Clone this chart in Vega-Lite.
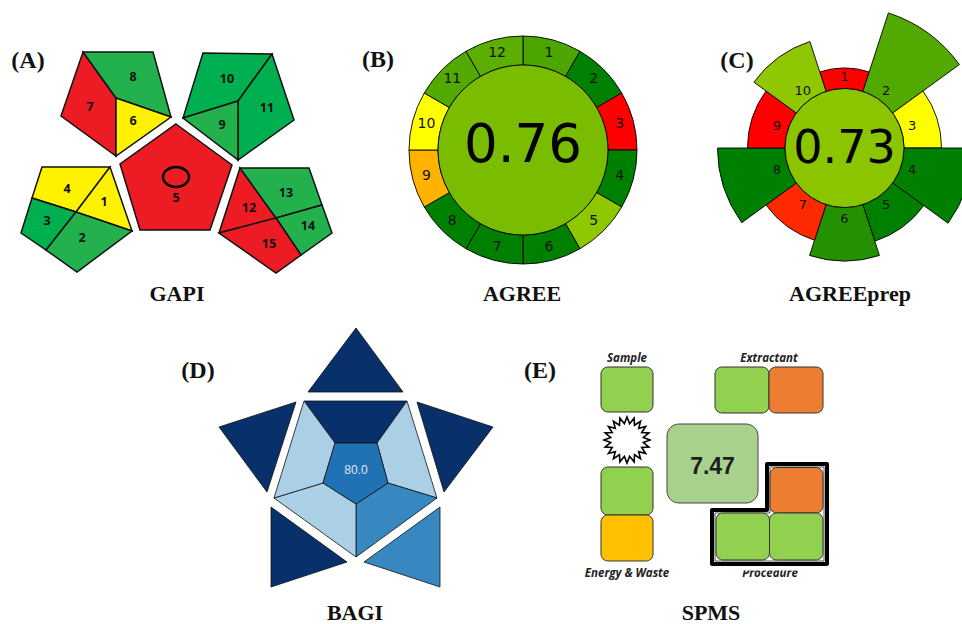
{
  "$schema": "https://vega.github.io/schema/vega-lite/v6.json",
  "width": 962,
  "height": 624,
  "padding": 0,
  "autosize": {"type": "none"},
  "background": "white",
  "config": {"view": {"stroke": null}},
  "datasets": {
    "gapi_cells": [
      {"seg": "7", "i": 0, "x": 83, "y": 52, "level": "high"},
      {"seg": "7", "i": 1, "x": 116, "y": 98, "level": "high"},
      {"seg": "7", "i": 2, "x": 116, "y": 156, "level": "high"},
      {"seg": "7", "i": 3, "x": 61, "y": 116, "level": "high"},
      {"seg": "8", "i": 0, "x": 83, "y": 52, "level": "low"},
      {"seg": "8", "i": 1, "x": 153, "y": 52, "level": "low"},
      {"seg": "8", "i": 2, "x": 171, "y": 117, "level": "low"},
      {"seg": "8", "i": 3, "x": 116, "y": 98, "level": "low"},
      {"seg": "6", "i": 0, "x": 116, "y": 98, "level": "medium"},
      {"seg": "6", "i": 1, "x": 171, "y": 117, "level": "medium"},
      {"seg": "6", "i": 2, "x": 116, "y": 156, "level": "medium"},
      {"seg": "10", "i": 0, "x": 203, "y": 53, "level": "lowest"},
      {"seg": "10", "i": 1, "x": 272, "y": 54, "level": "lowest"},
      {"seg": "10", "i": 2, "x": 238, "y": 101, "level": "lowest"},
      {"seg": "10", "i": 3, "x": 183, "y": 118, "level": "lowest"},
      {"seg": "11", "i": 0, "x": 272, "y": 54, "level": "lowest"},
      {"seg": "11", "i": 1, "x": 294, "y": 120, "level": "lowest"},
      {"seg": "11", "i": 2, "x": 238, "y": 160, "level": "lowest"},
      {"seg": "11", "i": 3, "x": 238, "y": 101, "level": "lowest"},
      {"seg": "9", "i": 0, "x": 183, "y": 118, "level": "low"},
      {"seg": "9", "i": 1, "x": 238, "y": 101, "level": "low"},
      {"seg": "9", "i": 2, "x": 238, "y": 160, "level": "low"},
      {"seg": "5", "i": 0, "x": 176, "y": 124, "level": "high"},
      {"seg": "5", "i": 1, "x": 232, "y": 165, "level": "high"},
      {"seg": "5", "i": 2, "x": 210, "y": 230, "level": "high"},
      {"seg": "5", "i": 3, "x": 140, "y": 230, "level": "high"},
      {"seg": "5", "i": 4, "x": 120, "y": 164, "level": "high"},
      {"seg": "4", "i": 0, "x": 42, "y": 167, "level": "medium"},
      {"seg": "4", "i": 1, "x": 110, "y": 167, "level": "medium"},
      {"seg": "4", "i": 2, "x": 76, "y": 212, "level": "medium"},
      {"seg": "4", "i": 3, "x": 32, "y": 198, "level": "medium"},
      {"seg": "1", "i": 0, "x": 110, "y": 167, "level": "medium"},
      {"seg": "1", "i": 1, "x": 132, "y": 231, "level": "medium"},
      {"seg": "1", "i": 2, "x": 76, "y": 212, "level": "medium"},
      {"seg": "3", "i": 0, "x": 32, "y": 198, "level": "lowest"},
      {"seg": "3", "i": 1, "x": 76, "y": 212, "level": "lowest"},
      {"seg": "3", "i": 2, "x": 46, "y": 250, "level": "lowest"},
      {"seg": "3", "i": 3, "x": 21, "y": 233, "level": "lowest"},
      {"seg": "2", "i": 0, "x": 76, "y": 212, "level": "low"},
      {"seg": "2", "i": 1, "x": 132, "y": 231, "level": "low"},
      {"seg": "2", "i": 2, "x": 77, "y": 272, "level": "low"},
      {"seg": "2", "i": 3, "x": 46, "y": 250, "level": "low"},
      {"seg": "12", "i": 0, "x": 240, "y": 168, "level": "high"},
      {"seg": "12", "i": 1, "x": 276, "y": 218, "level": "high"},
      {"seg": "12", "i": 2, "x": 219, "y": 233, "level": "high"},
      {"seg": "13", "i": 0, "x": 240, "y": 168, "level": "low"},
      {"seg": "13", "i": 1, "x": 309, "y": 168, "level": "low"},
      {"seg": "13", "i": 2, "x": 322, "y": 205, "level": "low"},
      {"seg": "13", "i": 3, "x": 276, "y": 218, "level": "low"},
      {"seg": "14", "i": 0, "x": 276, "y": 218, "level": "low"},
      {"seg": "14", "i": 1, "x": 322, "y": 205, "level": "low"},
      {"seg": "14", "i": 2, "x": 332, "y": 233, "level": "low"},
      {"seg": "14", "i": 3, "x": 301, "y": 255, "level": "low"},
      {"seg": "15", "i": 0, "x": 219, "y": 233, "level": "high"},
      {"seg": "15", "i": 1, "x": 276, "y": 218, "level": "high"},
      {"seg": "15", "i": 2, "x": 301, "y": 255, "level": "high"},
      {"seg": "15", "i": 3, "x": 276, "y": 273, "level": "high"}
    ],
    "gapi_labels": [
      {"x": 133, "y": 77, "label": "8"},
      {"x": 90, "y": 107, "label": "7"},
      {"x": 133, "y": 121, "label": "6"},
      {"x": 227, "y": 79, "label": "10"},
      {"x": 267, "y": 108, "label": "11"},
      {"x": 222, "y": 125, "label": "9"},
      {"x": 67, "y": 189, "label": "4"},
      {"x": 104, "y": 202, "label": "1"},
      {"x": 47, "y": 221, "label": "3"},
      {"x": 82, "y": 238, "label": "2"},
      {"x": 286, "y": 193, "label": "13"},
      {"x": 249, "y": 208, "label": "12"},
      {"x": 308, "y": 226, "label": "14"},
      {"x": 269, "y": 244, "label": "15"},
      {"x": 176, "y": 198, "label": "5"}
    ],
    "wheel_sectors": [
      {"x": 523, "y": 150, "t0": 0, "t1": 30, "r0": 85, "r1": 114, "score": 0.85},
      {"x": 523, "y": 150, "t0": 30, "t1": 60, "r0": 85, "r1": 114, "score": 1},
      {"x": 523, "y": 150, "t0": 60, "t1": 90, "r0": 85, "r1": 114, "score": 0},
      {"x": 523, "y": 150, "t0": 90, "t1": 120, "r0": 85, "r1": 114, "score": 1},
      {"x": 523, "y": 150, "t0": 120, "t1": 150, "r0": 85, "r1": 114, "score": 0.72},
      {"x": 523, "y": 150, "t0": 150, "t1": 180, "r0": 85, "r1": 114, "score": 1},
      {"x": 523, "y": 150, "t0": 180, "t1": 210, "r0": 85, "r1": 114, "score": 1},
      {"x": 523, "y": 150, "t0": 210, "t1": 240, "r0": 85, "r1": 114, "score": 1},
      {"x": 523, "y": 150, "t0": 240, "t1": 270, "r0": 85, "r1": 114, "score": 0.35},
      {"x": 523, "y": 150, "t0": 270, "t1": 300, "r0": 85, "r1": 114, "score": 0.5},
      {"x": 523, "y": 150, "t0": 300, "t1": 330, "r0": 85, "r1": 114, "score": 0.84},
      {"x": 523, "y": 150, "t0": 330, "t1": 360, "r0": 85, "r1": 114, "score": 0.82},
      {"x": 844.5, "y": 148, "t0": -18, "t1": 18, "r0": 59.5, "r1": 80, "score": 0},
      {"x": 844.5, "y": 148, "t0": 18, "t1": 54, "r0": 59.5, "r1": 142, "score": 0.84},
      {"x": 844.5, "y": 148, "t0": 54, "t1": 90, "r0": 59.5, "r1": 97, "score": 0.5},
      {"x": 844.5, "y": 148, "t0": 90, "t1": 126, "r0": 59.5, "r1": 128, "score": 1},
      {"x": 844.5, "y": 148, "t0": 126, "t1": 162, "r0": 59.5, "r1": 98, "score": 1},
      {"x": 844.5, "y": 148, "t0": 162, "t1": 198, "r0": 59.5, "r1": 113, "score": 0.93},
      {"x": 844.5, "y": 148, "t0": 198, "t1": 234, "r0": 59.5, "r1": 97, "score": 0.08},
      {"x": 844.5, "y": 148, "t0": 234, "t1": 270, "r0": 59.5, "r1": 127, "score": 1},
      {"x": 844.5, "y": 148, "t0": 270, "t1": 306, "r0": 59.5, "r1": 97, "score": 0},
      {"x": 844.5, "y": 148, "t0": 306, "t1": 342, "r0": 59.5, "r1": 112, "score": 0.72}
    ],
    "wheel_cores": [
      {"x": 523, "y": 150, "t0": 0, "t1": 360, "r0": 0, "r1": 85, "score": 0.76},
      {"x": 844.5, "y": 148, "t0": 0, "t1": 360, "r0": 0, "r1": 59.5, "score": 0.73}
    ],
    "agree_labels": [
      {"x": 523, "y": 150, "t": 15, "r": 100, "label": "1"},
      {"x": 523, "y": 150, "t": 45, "r": 100, "label": "2"},
      {"x": 523, "y": 150, "t": 75, "r": 100, "label": "3"},
      {"x": 523, "y": 150, "t": 105, "r": 100, "label": "4"},
      {"x": 523, "y": 150, "t": 135, "r": 100, "label": "5"},
      {"x": 523, "y": 150, "t": 165, "r": 100, "label": "6"},
      {"x": 523, "y": 150, "t": 195, "r": 100, "label": "7"},
      {"x": 523, "y": 150, "t": 225, "r": 100, "label": "8"},
      {"x": 523, "y": 150, "t": 255, "r": 100, "label": "9"},
      {"x": 523, "y": 150, "t": 285, "r": 100, "label": "10"},
      {"x": 523, "y": 150, "t": 315, "r": 100, "label": "11"},
      {"x": 523, "y": 150, "t": 345, "r": 100, "label": "12"}
    ],
    "prep_labels": [
      {"x": 844.5, "y": 148, "t": 0, "r": 71, "label": "1"},
      {"x": 844.5, "y": 148, "t": 36, "r": 71, "label": "2"},
      {"x": 844.5, "y": 148, "t": 72, "r": 71, "label": "3"},
      {"x": 844.5, "y": 148, "t": 108, "r": 71, "label": "4"},
      {"x": 844.5, "y": 148, "t": 144, "r": 71, "label": "5"},
      {"x": 844.5, "y": 148, "t": 180, "r": 71, "label": "6"},
      {"x": 844.5, "y": 148, "t": 216, "r": 71, "label": "7"},
      {"x": 844.5, "y": 148, "t": 252, "r": 71, "label": "8"},
      {"x": 844.5, "y": 148, "t": 288, "r": 71, "label": "9"},
      {"x": 844.5, "y": 148, "t": 324, "r": 71, "label": "10"}
    ],
    "bagi_cells": [
      {"part": "t1", "i": 0, "x": 356, "y": 328, "tone": "navy"},
      {"part": "t1", "i": 1, "x": 403, "y": 392, "tone": "navy"},
      {"part": "t1", "i": 2, "x": 308, "y": 392, "tone": "navy"},
      {"part": "t2", "i": 0, "x": 219, "y": 427, "tone": "navy"},
      {"part": "t2", "i": 1, "x": 296, "y": 402, "tone": "navy"},
      {"part": "t2", "i": 2, "x": 267, "y": 492, "tone": "navy"},
      {"part": "t3", "i": 0, "x": 417, "y": 402, "tone": "navy"},
      {"part": "t3", "i": 1, "x": 493, "y": 427, "tone": "navy"},
      {"part": "t3", "i": 2, "x": 444, "y": 492, "tone": "navy"},
      {"part": "t4", "i": 0, "x": 271, "y": 507, "tone": "navy"},
      {"part": "t4", "i": 1, "x": 347, "y": 562, "tone": "navy"},
      {"part": "t4", "i": 2, "x": 271, "y": 587, "tone": "navy"},
      {"part": "t5", "i": 0, "x": 440, "y": 507, "tone": "mid"},
      {"part": "t5", "i": 1, "x": 440, "y": 587, "tone": "mid"},
      {"part": "t5", "i": 2, "x": 364, "y": 562, "tone": "mid"},
      {"part": "r1", "i": 0, "x": 304, "y": 401, "tone": "navy"},
      {"part": "r1", "i": 1, "x": 407, "y": 401, "tone": "navy"},
      {"part": "r1", "i": 2, "x": 377, "y": 443, "tone": "navy"},
      {"part": "r1", "i": 3, "x": 335, "y": 443, "tone": "navy"},
      {"part": "r2", "i": 0, "x": 407, "y": 401, "tone": "pale"},
      {"part": "r2", "i": 1, "x": 437, "y": 498, "tone": "pale"},
      {"part": "r2", "i": 2, "x": 388, "y": 483, "tone": "pale"},
      {"part": "r2", "i": 3, "x": 377, "y": 443, "tone": "pale"},
      {"part": "r3", "i": 0, "x": 437, "y": 498, "tone": "mid"},
      {"part": "r3", "i": 1, "x": 356, "y": 557, "tone": "mid"},
      {"part": "r3", "i": 2, "x": 356, "y": 504, "tone": "mid"},
      {"part": "r3", "i": 3, "x": 388, "y": 483, "tone": "mid"},
      {"part": "r4", "i": 0, "x": 356, "y": 557, "tone": "pale"},
      {"part": "r4", "i": 1, "x": 274, "y": 498, "tone": "pale"},
      {"part": "r4", "i": 2, "x": 323, "y": 483, "tone": "pale"},
      {"part": "r4", "i": 3, "x": 356, "y": 504, "tone": "pale"},
      {"part": "r5", "i": 0, "x": 274, "y": 498, "tone": "pale"},
      {"part": "r5", "i": 1, "x": 304, "y": 401, "tone": "pale"},
      {"part": "r5", "i": 2, "x": 335, "y": 443, "tone": "pale"},
      {"part": "r5", "i": 3, "x": 323, "y": 483, "tone": "pale"},
      {"part": "c", "i": 0, "x": 335, "y": 443, "tone": "core"},
      {"part": "c", "i": 1, "x": 377, "y": 443, "tone": "core"},
      {"part": "c", "i": 2, "x": 388, "y": 483, "tone": "core"},
      {"part": "c", "i": 3, "x": 356, "y": 504, "tone": "core"},
      {"part": "c", "i": 4, "x": 323, "y": 483, "tone": "core"}
    ],
    "procedure_frame": [
      {"ring": "outer", "i": 0, "x": 712, "y": 510},
      {"ring": "outer", "i": 1, "x": 767, "y": 510},
      {"ring": "outer", "i": 2, "x": 767, "y": 464},
      {"ring": "outer", "i": 3, "x": 827, "y": 464},
      {"ring": "outer", "i": 4, "x": 827, "y": 564},
      {"ring": "outer", "i": 5, "x": 712, "y": 564},
      {"ring": "inner", "i": 0, "x": 715, "y": 513},
      {"ring": "inner", "i": 1, "x": 770, "y": 513},
      {"ring": "inner", "i": 2, "x": 770, "y": 467},
      {"ring": "inner", "i": 3, "x": 824, "y": 467},
      {"ring": "inner", "i": 4, "x": 824, "y": 561},
      {"ring": "inner", "i": 5, "x": 715, "y": 561}
    ],
    "spms_boxes": [
      {"group": "Sample", "x": 601, "x2": 653, "y": 367, "y2": 412, "grade": "good"},
      {"group": "Extractant", "x": 715, "x2": 769, "y": 367, "y2": 413, "grade": "good"},
      {"group": "Extractant", "x": 769, "x2": 823, "y": 367, "y2": 413, "grade": "poor"},
      {"group": "Energy & Waste", "x": 601, "x2": 653, "y": 467, "y2": 515, "grade": "good"},
      {"group": "Energy & Waste", "x": 601, "x2": 653, "y": 515, "y2": 561, "grade": "fair"},
      {"group": "Procedure", "x": 770, "x2": 823, "y": 467.5, "y2": 513, "grade": "poor"},
      {"group": "Procedure", "x": 716, "x2": 769.5, "y": 513, "y2": 560, "grade": "good"},
      {"group": "Procedure", "x": 769.5, "x2": 823, "y": 513, "y2": 560, "grade": "good"}
    ],
    "spms_labels": [
      {"x": 627, "y": 362, "label": "Sample"},
      {"x": 769, "y": 362, "label": "Extractant"},
      {"x": 627, "y": 577, "label": "Energy & Waste"},
      {"x": 770, "y": 577, "label": "Procedure"}
    ],
    "panel_letters": [
      {"x": 28, "y": 68, "label": "(A)"},
      {"x": 378, "y": 67, "label": "(B)"},
      {"x": 737, "y": 68, "label": "(C)"},
      {"x": 198, "y": 378, "label": "(D)"},
      {"x": 540, "y": 378, "label": "(E)"}
    ],
    "panel_titles": [
      {"x": 177, "y": 301, "label": "GAPI"},
      {"x": 522, "y": 301, "label": "AGREE"},
      {"x": 850, "y": 301, "label": "AGREEprep"},
      {"x": 355, "y": 620, "label": "BAGI"},
      {"x": 711, "y": 620, "label": "SPMS"}
    ]
  },
  "encoding": {
    "x": {"field": "x", "type": "quantitative", "scale": {"domain": [0, 962], "nice": false, "zero": false}, "axis": null},
    "y": {"field": "y", "type": "quantitative", "scale": {"domain": [0, 624], "nice": false, "zero": false, "reverse": true}, "axis": null}
  },
  "layer": [
    {
      "data": {"name": "gapi_cells"},
      "mark": {"type": "line", "interpolate": "linear-closed", "stroke": "#111111", "strokeWidth": 1.5, "strokeJoin": "miter"},
      "encoding": {
        "detail": {"field": "seg", "type": "nominal"},
        "order": {"field": "i", "type": "quantitative"},
        "fill": {"field": "level", "type": "nominal", "scale": {"domain": ["high", "medium", "low", "lowest"], "range": ["#ed1c24", "#fff200", "#22b14c", "#00b050"]}, "legend": null}
      }
    },
    {
      "data": {"values": [{"x": 176, "y": 177}]},
      "mark": {"type": "point", "shape": "M-1,0A1,0.77 0 1,1 1,0A1,0.77 0 1,1 -1,0Z", "size": 676, "filled": false, "stroke": "#000000", "strokeWidth": 2.5, "opacity": 1}
    },
    {
      "data": {"name": "gapi_labels"},
      "mark": {"type": "text", "font": "Open Sans", "fontWeight": "bold", "fontSize": 12.5, "fill": "#111111", "align": "center", "baseline": "middle"},
      "encoding": {"text": {"field": "label"}}
    },
    {
      "data": {"name": "wheel_sectors"},
      "mark": {"type": "arc", "stroke": "#000000", "strokeWidth": 0.9},
      "encoding": {
        "theta": {"field": "t0", "type": "quantitative", "stack": null, "scale": {"domain": [0, 360], "range": [0, 6.283185307179586]}},
        "theta2": {"field": "t1"},
        "radius": {"field": "r1", "type": "quantitative", "scale": {"type": "linear", "zero": true, "domain": [0, 200], "range": [0, 200]}},
        "radius2": {"field": "r0"},
        "fill": {"field": "score", "type": "quantitative", "scale": {"domain": [0, 0.5, 1], "range": ["#ff0000", "#ffff00", "#008000"], "interpolate": "rgb"}, "legend": null}
      }
    },
    {
      "data": {"name": "wheel_cores"},
      "mark": {"type": "arc", "stroke": "#000000", "strokeWidth": 0.9},
      "encoding": {
        "theta": {"field": "t0", "type": "quantitative", "stack": null, "scale": {"domain": [0, 360], "range": [0, 6.283185307179586]}},
        "theta2": {"field": "t1"},
        "radius": {"field": "r1", "type": "quantitative", "scale": {"type": "linear", "zero": true, "domain": [0, 200], "range": [0, 200]}},
        "radius2": {"field": "r0"},
        "fill": {"field": "score", "type": "quantitative", "scale": {"domain": [0, 0.5, 1], "range": ["#ff0000", "#ffff00", "#008000"], "interpolate": "rgb"}, "legend": null}
      }
    },
    {
      "data": {"name": "agree_labels"},
      "mark": {"type": "text", "font": "DejaVu Sans", "fontSize": 14, "fill": "#111111", "align": "center", "baseline": "middle"},
      "encoding": {
        "theta": {"field": "t", "type": "quantitative", "stack": null, "scale": {"domain": [0, 360], "range": [0, 6.283185307179586]}},
        "radius": {"field": "r", "type": "quantitative", "scale": {"type": "linear", "zero": true, "domain": [0, 200], "range": [0, 200]}},
        "text": {"field": "label"}
      }
    },
    {
      "data": {"name": "prep_labels"},
      "mark": {"type": "text", "font": "DejaVu Sans", "fontSize": 13, "fill": "#111111", "align": "center", "baseline": "middle"},
      "encoding": {
        "theta": {"field": "t", "type": "quantitative", "stack": null, "scale": {"domain": [0, 360], "range": [0, 6.283185307179586]}},
        "radius": {"field": "r", "type": "quantitative", "scale": {"type": "linear", "zero": true, "domain": [0, 200], "range": [0, 200]}},
        "text": {"field": "label"}
      }
    },
    {
      "data": {"values": [{"x": 523, "y": 162, "label": "0.76"}]},
      "mark": {"type": "text", "font": "DejaVu Sans", "fontSize": 53, "fill": "#000000", "align": "center", "baseline": "alphabetic"},
      "encoding": {"text": {"field": "label"}}
    },
    {
      "data": {"values": [{"x": 844.5, "y": 163, "label": "0.73"}]},
      "mark": {"type": "text", "font": "DejaVu Sans", "fontSize": 46, "fill": "#000000", "align": "center", "baseline": "alphabetic"},
      "encoding": {"text": {"field": "label"}}
    },
    {
      "data": {"name": "bagi_cells"},
      "mark": {"type": "line", "interpolate": "linear-closed", "stroke": "#111111", "strokeWidth": 0.8, "strokeJoin": "miter"},
      "encoding": {
        "detail": {"field": "part", "type": "nominal"},
        "order": {"field": "i", "type": "quantitative"},
        "fill": {"field": "tone", "type": "nominal", "scale": {"domain": ["navy", "pale", "mid", "core"], "range": ["#08306b", "#abd0e6", "#3787c0", "#2171b5"]}, "legend": null}
      }
    },
    {
      "data": {"values": [{"x": 356, "y": 470, "label": "80.0"}]},
      "mark": {"type": "text", "font": "Liberation Sans", "fontSize": 12, "fill": "#dfe7f0", "align": "center", "baseline": "middle"},
      "encoding": {"text": {"field": "label"}}
    },
    {
      "data": {"name": "spms_labels"},
      "mark": {"type": "text", "font": "Open Sans", "fontStyle": "italic", "fontWeight": "bold", "fontSize": 11.5, "fill": "#222222", "align": "center", "baseline": "alphabetic"},
      "encoding": {"text": {"field": "label"}}
    },
    {
      "data": {"name": "procedure_frame"},
      "transform": [{"filter": "datum.ring === 'outer'"}],
      "mark": {"type": "line", "interpolate": "linear-closed", "stroke": "#ffffff", "strokeWidth": 13, "strokeJoin": "miter"},
      "encoding": {"order": {"field": "i", "type": "quantitative"}}
    },
    {
      "data": {"name": "procedure_frame"},
      "transform": [{"filter": "datum.ring === 'outer'"}],
      "mark": {"type": "line", "interpolate": "linear-closed", "stroke": "#000000", "strokeWidth": 4, "strokeJoin": "round"},
      "encoding": {"order": {"field": "i", "type": "quantitative"}}
    },
    {
      "data": {"name": "procedure_frame"},
      "transform": [{"filter": "datum.ring === 'inner'"}],
      "mark": {"type": "line", "interpolate": "linear-closed", "stroke": "#555555", "strokeWidth": 1, "strokeJoin": "round"},
      "encoding": {"order": {"field": "i", "type": "quantitative"}}
    },
    {
      "data": {"name": "spms_boxes"},
      "mark": {"type": "rect", "cornerRadius": 7, "stroke": "#333333", "strokeWidth": 1},
      "encoding": {
        "x2": {"field": "x2"},
        "y2": {"field": "y2"},
        "fill": {"field": "grade", "type": "nominal", "scale": {"domain": ["good", "fair", "poor"], "range": ["#92d050", "#ffc000", "#ed7d31"]}, "legend": null}
      }
    },
    {
      "data": {"values": [{"x": 667, "x2": 758, "y": 424, "y2": 503}]},
      "mark": {"type": "rect", "cornerRadius": 12, "fill": "#a9d18e", "stroke": "#444444", "strokeWidth": 1},
      "encoding": {"x2": {"field": "x2"}, "y2": {"field": "y2"}}
    },
    {
      "data": {"values": [{"x": 712.5, "y": 474, "label": "7.47"}]},
      "mark": {"type": "text", "font": "Liberation Sans", "fontWeight": "bold", "fontSize": 23, "fill": "#1e1e1e", "align": "center", "baseline": "alphabetic"},
      "encoding": {"text": {"field": "label"}}
    },
    {
      "data": {"values": [{"x": 627, "y": 440}]},
      "mark": {"type": "point", "shape": "M0,-1L0.113,-0.711L0.309,-0.951L0.327,-0.642L0.588,-0.809L0.509,-0.509L0.809,-0.588L0.642,-0.327L0.951,-0.309L0.711,-0.113L1,0L0.711,0.113L0.951,0.309L0.642,0.327L0.809,0.588L0.509,0.509L0.588,0.809L0.327,0.642L0.309,0.951L0.113,0.711L0,1L-0.113,0.711L-0.309,0.951L-0.327,0.642L-0.588,0.809L-0.509,0.509L-0.809,0.588L-0.642,0.327L-0.951,0.309L-0.711,0.113L-1,0L-0.711,-0.113L-0.951,-0.309L-0.642,-0.327L-0.809,-0.588L-0.509,-0.509L-0.588,-0.809L-0.327,-0.642L-0.309,-0.951L-0.113,-0.711Z", "size": 2116, "filled": true, "fill": "#ffffff", "stroke": "#000000", "strokeWidth": 1.6, "opacity": 1}
    },
    {
      "data": {"name": "panel_letters"},
      "mark": {"type": "text", "font": "Liberation Serif", "fontWeight": "bold", "fontSize": 24, "fill": "#111111", "align": "center", "baseline": "alphabetic"},
      "encoding": {"text": {"field": "label"}}
    },
    {
      "data": {"name": "panel_titles"},
      "mark": {"type": "text", "font": "Liberation Serif", "fontWeight": "bold", "fontSize": 22, "fill": "#111111", "align": "center", "baseline": "alphabetic"},
      "encoding": {"text": {"field": "label"}}
    }
  ],
  "resolve": {"scale": {"fill": "independent"}}
}
